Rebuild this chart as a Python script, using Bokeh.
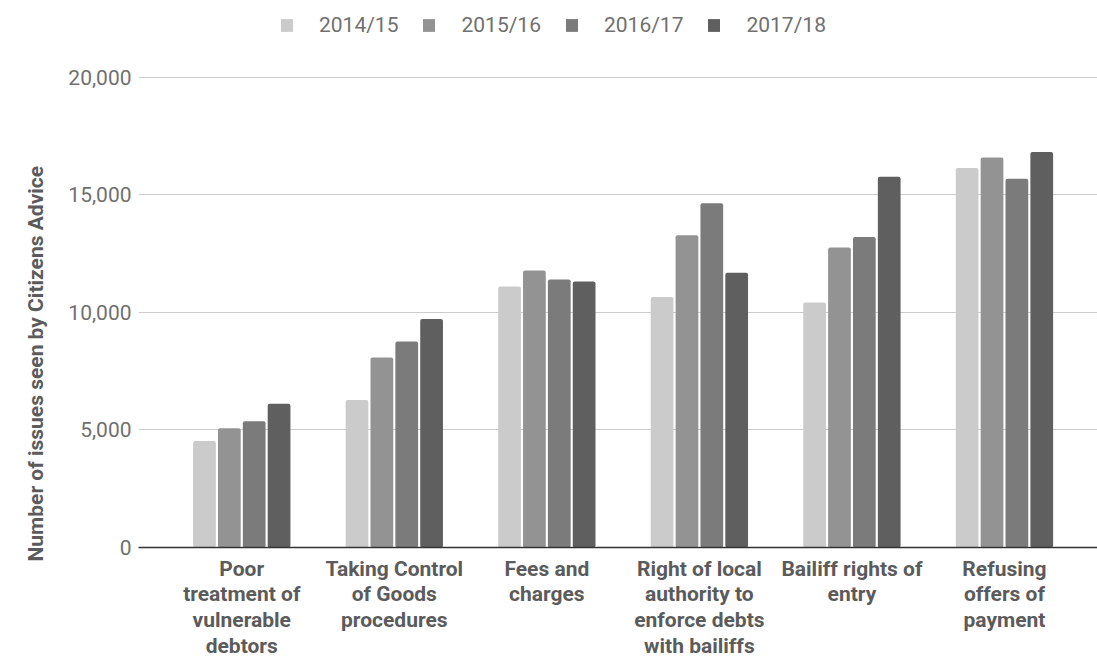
import math
from bokeh.plotting import figure
from bokeh.models import ColumnDataSource, Range1d, FixedTicker, Legend, LegendItem, Title, NumeralTickFormatter
from bokeh.embed import file_html
from bokeh.resources import INLINE

categories = [
    "Poor\ntreatment of\nvulnerable\ndebtors",
    "Taking Control\nof Goods\nprocedures",
    "Fees and\ncharges",
    "Right of local\nauthority to\nenforce debts\nwith bailiffs",
    "Bailiff rights of\nentry",
    "Refusing\noffers of\npayment",
]
years = ["2014/15", "2015/16", "2016/17", "2017/18"]
v_2014_15 = [4530, 6270, 11100, 10660, 10420, 16140]
v_2015_16 = [5070, 8080, 11780, 13280, 12760, 16590]
v_2016_17 = [5370, 8760, 11400, 14640, 13210, 15690]
v_2017_18 = [6110, 9720, 11320, 11690, 15770, 16820]
series = [v_2014_15, v_2015_16, v_2016_17, v_2017_18]
colors = ["#cbcbcb", "#939393", "#7b7b7b", "#5f5f5f"]
y_ticks = [0, 5000, 10000, 15000, 20000]

FONT = "Roboto"

p = figure(width=1097, height=660, output_backend="svg", toolbar_location=None,
           x_range=Range1d(-0.677, 5.61), y_range=Range1d(0, 23270),
           min_border_left=138, min_border_right=0, min_border_top=0, min_border_bottom=0)
p.outline_line_color = None
p.background_fill_color = "white"
p.border_fill_color = "white"

step = 0.163
width = 0.149
renderers = []
for k, (vals, col) in enumerate(zip(series, colors)):
    xs = [i + (k - 1.5) * step for i in range(len(categories))]
    src = ColumnDataSource(dict(x=xs, top=vals))
    r = p.vbar(x="x", top="top", width=width, source=src, fill_color=col,
               line_color=None, border_radius=2)
    renderers.append(r)

# axes
p.xaxis.ticker = FixedTicker(ticks=list(range(len(categories))))
p.xaxis.major_label_overrides = {i: c for i, c in enumerate(categories)}
p.xaxis.major_label_text_font = FONT
p.xaxis.major_label_text_font_style = "bold"
p.xaxis.major_label_text_font_size = "21px"
p.xaxis.major_label_text_color = "#5b5b5b"
p.xaxis.major_label_text_line_height = 1.07
p.xaxis.major_label_standoff = 3
p.xaxis.major_tick_line_color = None
p.xaxis.minor_tick_line_color = None
p.xaxis.axis_line_color = "#333333"
p.xaxis.axis_line_width = 1.5

p.yaxis.ticker = FixedTicker(ticks=y_ticks)
p.yaxis.formatter = NumeralTickFormatter(format="0,0")
p.yaxis.major_label_text_font = FONT
p.yaxis.major_label_text_font_size = "21px"
p.yaxis.major_label_text_color = "#707070"
p.yaxis.major_label_standoff = 1
p.yaxis.major_tick_line_color = None
p.yaxis.minor_tick_line_color = None
p.yaxis.axis_line_color = None

p.xgrid.grid_line_color = None
p.ygrid.grid_line_color = "#cccccc"
p.ygrid.grid_line_width = 1.2

# y axis title
ytitle = Title(text="Number of issues seen by Citizens Advice", align="left", offset=-14,
               text_font=FONT, text_font_style="bold", text_font_size="21px",
               text_color="#5b5b5b", standoff=36)
p.add_layout(ytitle, "left")

legend = Legend(items=[LegendItem(label=y, renderers=[r]) for y, r in zip(years, renderers)],
                orientation="horizontal", location=(141, 510),
                label_text_font=FONT, label_text_font_size="21px", label_text_color="#707070",
                glyph_width=15, glyph_height=16, label_standoff=25, spacing=23,
                padding=0, margin=0, border_line_color=None, background_fill_alpha=0)
p.add_layout(legend)

open("out.html", "w").write(file_html(p, INLINE))
